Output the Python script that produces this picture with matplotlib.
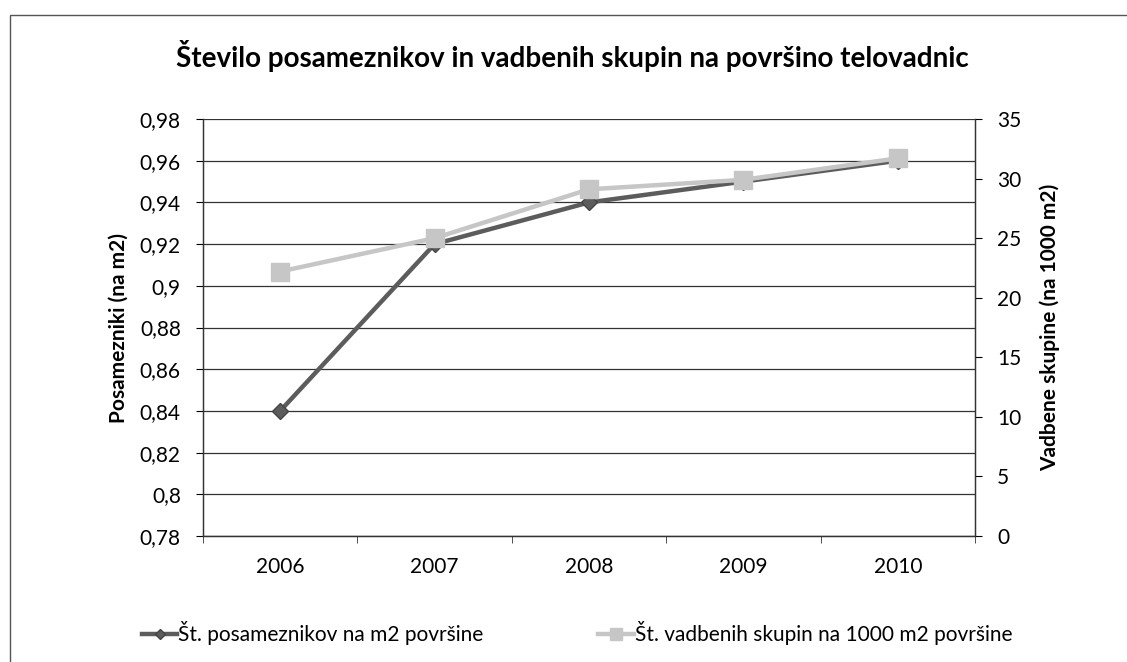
import matplotlib
matplotlib.use("Agg")
import matplotlib.pyplot as plt
from matplotlib.patches import Rectangle
from matplotlib.ticker import FuncFormatter, MultipleLocator

plt.rcParams["font.family"] = ["Lato", "DejaVu Sans"]

years = ["2006", "2007", "2008", "2009", "2010"]
posamezniki = [0.84, 0.92, 0.94, 0.95, 0.96]        # na m2
skupine = [22.2, 25.0, 29.1, 29.9, 31.7]            # na 1000 m2

title = "Število posameznikov in vadbenih skupin na površino telovadnic"
label_left = "Št. posameznikov na m2 površine"
label_right = "Št. vadbenih skupin na 1000 m2 površine"

DARK = "#5c5c5c"
LIGHT = "#c6c6c6"
FS = 15

fig = plt.figure(figsize=(11.27, 6.62), dpi=100)
ax = fig.add_axes([0.1801, 0.1903, 0.6850, 0.6299])
ax2 = ax.twinx()

x = list(range(len(years)))
ax.plot(x, posamezniki, color=DARK, lw=3.2, marker="D", ms=8,
        mfc=DARK, mec="#444444", zorder=3, label=label_left)
ax2.plot(x, skupine, color=LIGHT, lw=3.2, marker="s", ms=13,
         mfc=LIGHT, mec=LIGHT, zorder=4, label=label_right)

ax.set_xlim(-0.5, 4.5)
ax.set_ylim(0.78, 0.98)
ax.yaxis.set_major_locator(MultipleLocator(0.02))
ax2.set_ylim(0, 35)
ax2.yaxis.set_major_locator(MultipleLocator(5))

comma = FuncFormatter(lambda v, p: f"{round(v, 2):g}".replace(".", ","))
ax.yaxis.set_major_formatter(comma)

ax.set_xticks(x)
ax.set_xticklabels(years)
ax.set_xticks([i + 0.5 for i in range(-1, 5)], minor=True)
ax.tick_params(axis="x", which="major", length=0, pad=15, labelsize=FS)
ax.tick_params(axis="x", which="minor", length=5, direction="out", color="#333333")
ax.tick_params(axis="y", length=5, direction="out", labelsize=FS, pad=11)
ax2.tick_params(axis="y", length=5, direction="out", labelsize=FS, pad=11)

ax.grid(axis="y", color="#333333", lw=0.9)
ax.set_axisbelow(True)
for a in (ax, ax2):
    a.spines["top"].set_visible(False)
    for s in ("left", "right", "bottom"):
        a.spines[s].set_color("#333333")
        a.spines[s].set_linewidth(0.9)

ax.set_ylabel("Posamezniki (na m2)", fontsize=FS, fontweight="bold", labelpad=8)
ax2.set_ylabel("Vadbene skupine (na 1000 m2)", fontsize=FS, fontweight="bold",
               labelpad=13)

fig.text(0.508, 0.915, title, ha="center", va="center", fontsize=20,
         fontweight="bold")

h1, l1 = ax.get_legend_handles_labels()
h2, l2 = ax2.get_legend_handles_labels()
fig.legend(h1 + h2, l1 + l2, loc="center", bbox_to_anchor=(0.512, 0.044),
           ncol=2, frameon=False, fontsize=FS, handlelength=1.7,
           handletextpad=0.05, columnspacing=5.5, markerscale=0.65)

# outer chart frame (right and bottom edges cut off in the scan)
fig.patches.append(Rectangle((10 / 1127, -0.1), 1.2, (662 - 15) / 662 + 0.1,
                             transform=fig.transFigure, fill=False,
                             ec="#555555", lw=1.0))

fig.savefig("out.png", dpi=100)
